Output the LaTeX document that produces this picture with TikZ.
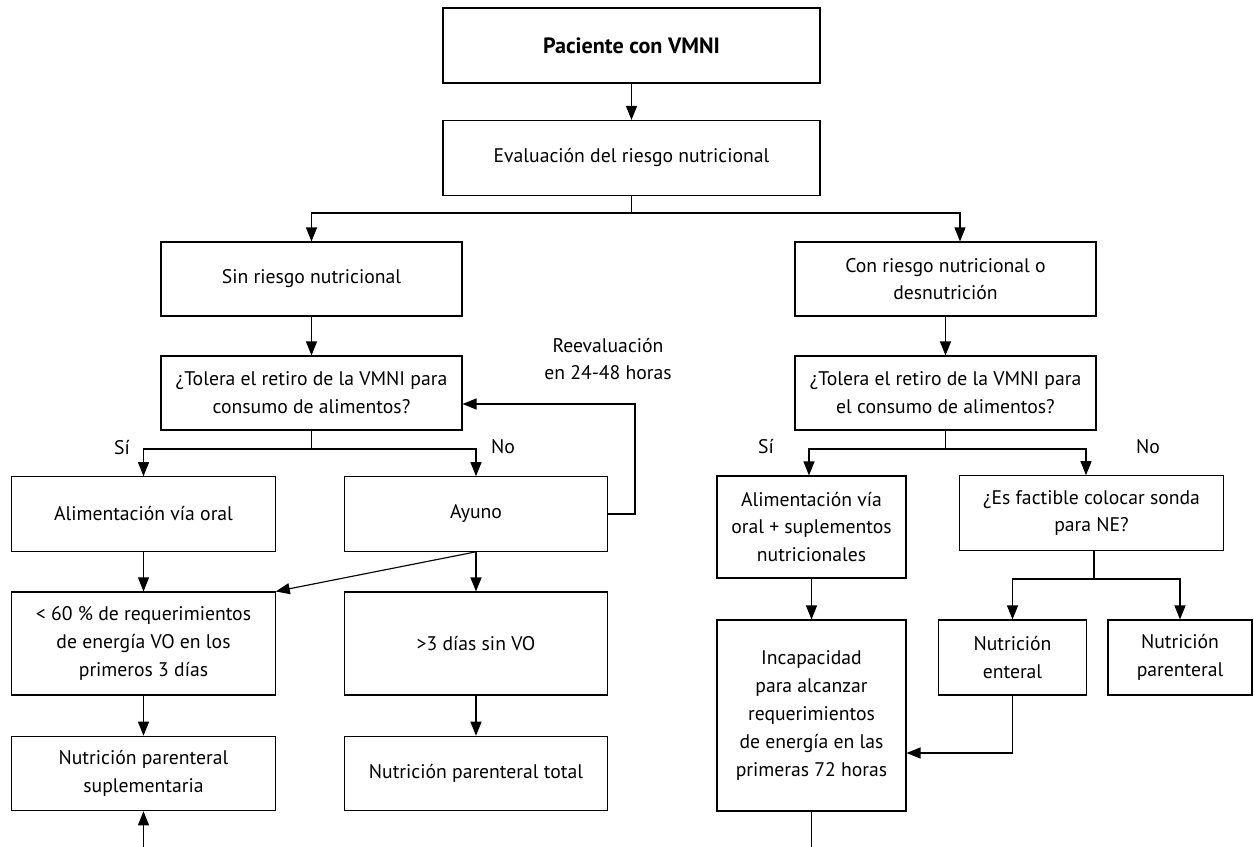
\documentclass[tikz,border=0pt]{standalone}
\usepackage{fontspec}
\setmainfont{PT Sans}
\usetikzlibrary{arrows.meta}

\tikzset{
  box/.style={draw, line width=0.65pt, align=center, inner xsep=1pt, inner ysep=2pt,
    font=\fontsize{11.2}{15.8}\selectfont},
  bigbox/.style={box, minimum width=7.54cm, minimum height=1.5cm},
  midbox/.style={box, minimum width=6.02cm, minimum height=1.48cm},
  leafbox/.style={box, minimum width=5.27cm, minimum height=1.49cm},
  tallbox/.style={box, minimum width=5.27cm, minimum height=2.06cm},
  thinbox/.style={box, minimum width=3.78cm, minimum height=2.04cm},
  tinybox/.style={box, minimum width=2.95cm, minimum height=1.5cm},
  lbl/.style={font=\fontsize{11.2}{15.8}\selectfont, align=center},
  arr/.style={line width=0.65pt, -{Triangle[length=2.8mm,width=2.2mm]}},
  ln/.style={line width=0.65pt}
}

\begin{document}
\begin{tikzpicture}[x=0.02cm, y=-0.02cm]
  \useasboundingbox (0,0) rectangle (1254,847);

  % top
  \node[bigbox, font=\fontsize{12.6}{15.8}\selectfont\bfseries] (pac) at (631.5,45.5) {Paciente con VMNI};
  \node[bigbox] (eval) at (631.5,158) {Evaluación del riesgo nutricional};
  \node[midbox] (sin) at (311.5,279) {Sin riesgo nutricional};
  \node[midbox] (con) at (945.5,279) {Con riesgo nutricional o\\desnutrición};

  % left side
  \node[midbox] (tol1) at (311.5,393) {¿Tolera el retiro de la VMNI para\\consumo de alimentos?};
  \node[leafbox] (oral) at (143.5,514) {Alimentación vía oral};
  \node[leafbox] (ayuno) at (476,514) {Ayuno};
  \node[tallbox] (lt60) at (143.5,643.5) {< 60 \% de requerimientos\\de energía VO en los\\primeros 3 días};
  \node[tallbox] (dias) at (476,643.5) {>3 días sin VO};
  \node[leafbox] (nps) at (143.5,773.5) {Nutrición parenteral\\suplementaria};
  \node[leafbox] (npt) at (476,773.5) {Nutrición parenteral total};

  % right side
  \node[midbox] (tol2) at (945.5,393) {¿Tolera el retiro de la VMNI para\\el consumo de alimentos?};
  \node[thinbox] (oralsup) at (811.5,527) {Alimentación vía\\oral + suplementos\\nutricionales};
  \node[leafbox] (sonda) at (1091.5,513) {¿Es factible colocar sonda\\para NE?};
  \node[thinbox, minimum height=3.82cm] (incap) at (811.5,715.5) {Incapacidad\\para alcanzar\\requerimientos\\de energía en las\\primeras 72 horas};
  \node[tinybox] (ne) at (1012.5,657.5) {Nutrición\\enteral};
  \node[tinybox, minimum width=2.88cm] (np) at (1180,657.5) {Nutrición\\parenteral};

  % labels
  \node[lbl] (si1) at (122,448) {Sí};
  \node[lbl] (no1) at (503,447) {No};
  \node[lbl] (si2) at (766,447) {Sí};
  \node[lbl] (no2) at (1148,447) {No};
  \node[lbl] (reev) at (608,359) {Reevaluación\\en 24-48 horas};

  % top connectors
  \draw[arr] (pac) -- (eval);
  \coordinate (s1) at (631.5,213);
  \draw[ln] (eval) -- (s1);
  \draw[arr] (s1) -| (sin);
  \draw[arr] (s1) -| ([xshift=0.29cm]con.north);

  % left connectors
  \draw[arr] (sin) -- (tol1);
  \coordinate (s2) at (311.5,449);
  \draw[ln] (tol1) -- (s2);
  \draw[arr] (s2) -| (oral);
  \draw[arr] (s2) -| (ayuno);
  \coordinate (fb) at (635,404);
  \draw[arr] (ayuno.east) -| (fb) -- (fb -| tol1.east);
  \draw[arr] (oral) -- (lt60);
  \draw[arr] (ayuno.south) -- (lt60.north east);
  \draw[arr] (ayuno) -- (dias);
  \draw[arr] (lt60) -- (nps);
  \draw[arr] (dias) -- (npt);
  \coordinate (in1) at (143.5,847);
  \draw[arr] (in1) -- (nps);

  % right connectors
  \draw[arr] (con) -- (tol2);
  \coordinate (s3) at (945.5,449);
  \draw[ln] (tol2) -- (s3);
  \draw[arr] (s3) -| ([xshift=-0.05cm]oralsup.north);
  \draw[arr] (s3) -| ([xshift=-0.11cm]sonda.north);
  \draw[arr] (oralsup) -- (incap);
  \coordinate (s4) at (1094,579);
  \draw[ln] (sonda.south -| s4) -- (s4);
  \draw[arr] (s4) -| (ne);
  \draw[arr] (s4) -| (np);
  \coordinate (fb2) at (1012.5,753);
  \draw[arr] (ne) -- (fb2) -- (fb2 -| incap.east);
  \coordinate (out2) at (811.5,847);
  \draw[ln] (incap) -- (out2);
\end{tikzpicture}
\end{document}
